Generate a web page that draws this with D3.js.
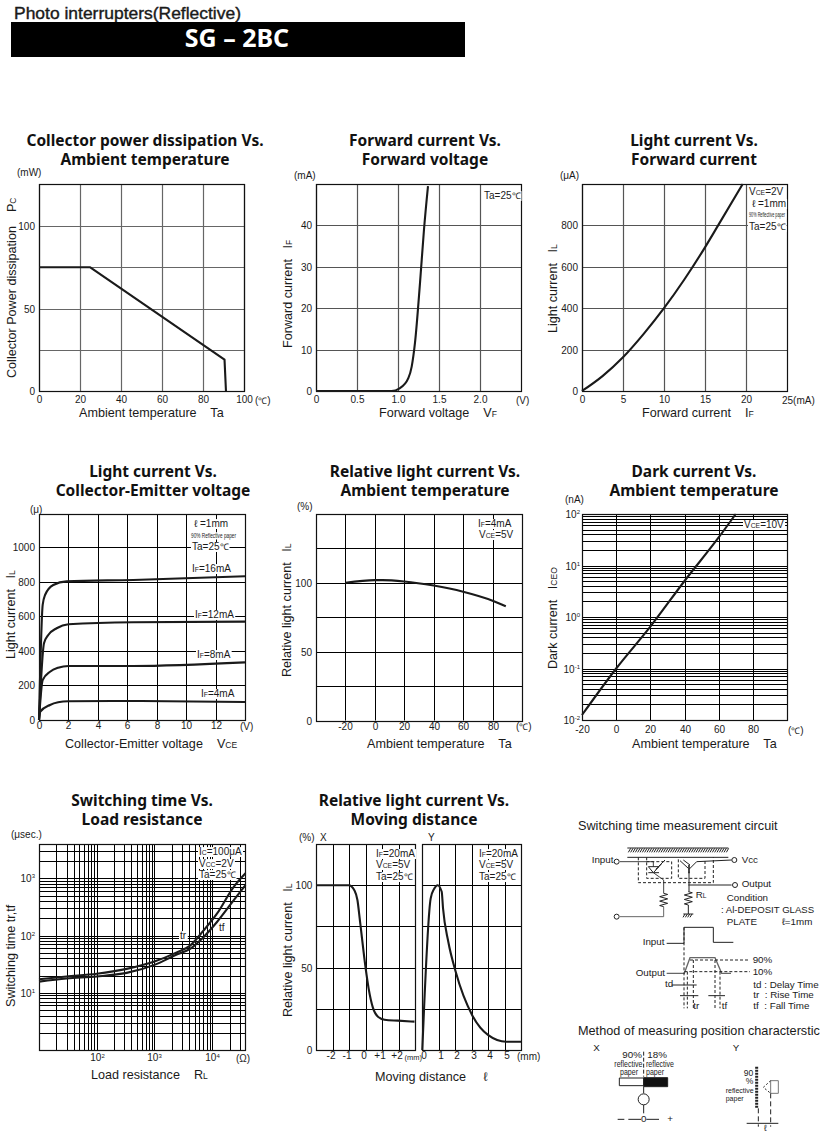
<!DOCTYPE html>
<html><head><meta charset="utf-8">
<script src="https://cdn.jsdelivr.net/npm/d3@7"></script>
<style>
html,body{margin:0;padding:0;background:#fff}
svg{display:block}
text{font-family:"Liberation Sans",Arial,sans-serif;fill:#1a1a1a;white-space:pre}
.ttl{font-family:"Noto Sans",sans-serif;font-weight:700;font-size:15.5px;text-anchor:middle;fill:#111}
.tick text{font-size:10px}
.axt{font-size:12.6px}
.note{font-size:10px}
.halo{stroke:#fff;stroke-width:4px;stroke-linejoin:round;fill:#fff}
.unit{font-size:10px}
.dg{font-size:9.8px}
</style></head><body><svg id="c" width="836" height="1134"></svg>
<script>
// ---------- data ----------
const powerTa=[0,25,90.5,91.2], powerPc=[75,75,19,0];
const vfVolt=[0,0.92,1.02,1.126,1.167,1.207,1.268,1.317,1.366], vfCurrent=[0,0,0.65,3.1,5.9,11.6,26,39,49.5];
const ilIf=[0,2.5,5,7.5,10,12.5,15,16.6,19.6], ilLight=[0,72,163,275,400,540,694,800,1000];
const vceV16=[0,0.25,0.41,0.97,1.88,6.4,14], ilIf16=[0,665,722,780,801,809,830];
const vceV12=[0,0.34,0.63,1.2,2,6.4,14], ilIf12=[0,443,491,530,553,565,568];
const vceV8=[0,0.25,0.75,1.3,2,6.4,14], ilIf8=[0,231,279,302,312,312,333];
const vceV4=[0,0.09,0.75,1.3,2,6.4,14], ilIf4=[0,48,87,102,108,110,104];
const relTa=[-20,0,5,20,40,60,80,89], relIl=[100,102,102,101,98,93.5,87,83];
const darkTa=[-20,0,20,40,60,70], darkNa=[0.0125,0.1,0.65,5,35,100];
const swR=[10,30,100,330,1000,2430,4140,7050,12000,23300,37700];
const swTr=[17.3,19.3,21.5,26.2,35.2,51,67,122,239,700,1230];
const swTf=[15.7,17.8,19.3,22.3,30.8,46.6,58.6,93.8,171,408,767];
const moveXd=[-3,-1.03,-0.67,-0.5,-0.34,0,0.18,0.44,0.75,1.15,1.96,2.97], moveXi=[100,100,96.7,91,77.9,49.6,37.4,25.7,20.2,18.4,17.8,17.2];
const moveYd=[0,0.51,0.73,0.93,1.18,1.26,1.58,2.03,3.04,4.01,5.1,6], moveYi=[0,92,98,100,96,86,65.7,47.5,21,9,5,5];
const zip=(a,b)=>a.map((v,i)=>[v,b[i]]);

const svg=d3.select("#c");
function rich(sel,str){
  d3.selectAll(sel.nodes()).each(function(){
    const t=d3.select(this);
    str.split(/(\{[^}]*\}|℃)/).filter(s=>s).forEach(p=>{
      if(p==="℃") t.append("tspan").attr("font-size","0.9em").text(p);
      else if(p[0]==="{") t.append("tspan").attr("font-size","0.68em").text(p.slice(1,-1));
      else t.append("tspan").text(p);
    });
  });
  return sel;
}
function txt(x,y,s,cls,opt={}){
  const t=svg.append("text").attr("x",x).attr("y",y).attr("class",cls||null);
  if(opt.size)t.style("font-size",opt.size+"px");
  if(opt.len)t.attr("textLength",opt.len).attr("lengthAdjust","spacingAndGlyphs");
  if(opt.anchor)t.attr("text-anchor",opt.anchor);
  if(opt.weight)t.style("font-weight",opt.weight);
  if(opt.fill)t.style("fill",opt.fill);
  if(opt.stroke)t.style("stroke",opt.stroke).style("stroke-width",opt.sw);
  return rich(t,s);
}
function panel(o){
  const xs=o.xlog?d3.scaleLog():d3.scaleLinear(), ys=o.ylog?d3.scaleLog():d3.scaleLinear();
  xs.domain(o.xd).range([o.l,o.r]); ys.domain(o.yd).range([o.b,o.t]);
  const xg=xs.copy().interpolate(d3.interpolateRound), yg=ys.copy().interpolate(d3.interpolateRound);
  const w=o.r-o.l,h=o.b-o.t, col=o.grid||"#000";
  const xt=o.xlog?xs.ticks().filter(v=>v>o.xd[0]&&v<o.xd[1]):o.xt;
  const yt=o.ylog?ys.ticks().filter(v=>v>=o.yd[0]&&v<=o.yd[1]):o.yt;
  const gx=svg.append("g").attr("transform",`translate(0,${o.b})`)
    .call(d3.axisBottom(xg).tickValues(xt).tickSize(-h).tickPadding(o.xp||5).tickFormat(v=>o.xf(v)));
  const gy=svg.append("g").attr("transform",`translate(${o.l},0)`)
    .call(d3.axisLeft(yg).tickValues(yt).tickSize(-w).tickPadding(o.yp||4).tickFormat(v=>o.yf?o.yf(v):""));
  [gx,gy].forEach(g=>{g.select(".domain").remove();g.attr("font-family",null).attr("font-size",null);
    g.selectAll("line").attr("stroke",col).attr("stroke-width",o.gw||1);});
  if(o.xdx)gx.selectAll("text").attr("dx",o.xdx);
  const powText=(g)=>g.selectAll("text").each(function(){
    const t=d3.select(this),s=t.text(); if(!s.startsWith("10^"))return;
    t.text("10");t.append("tspan").attr("font-size","0.6em").attr("dy","-0.6em").text(s.slice(3));
  });
  powText(gx);powText(gy);
  svg.append("rect").attr("x",Math.round(o.l)+.5).attr("y",Math.round(o.t)+.5).attr("width",Math.round(w)).attr("height",Math.round(h))
    .attr("fill","none").attr("stroke","#111").attr("stroke-width",1.2);
  const line=d3.line().x(d=>xs(d[0])).y(d=>ys(d[1])).curve(o.linear?d3.curveLinear:d3.curveMonotoneX);
  o.series.forEach(s=>svg.append("path").attr("d",line(s)).attr("fill","none").attr("stroke","#1a1a1a").attr("stroke-width",o.sw||2.1).attr("stroke-linejoin","round"));
}
const num=v=>String(v);

// ---------- header ----------
txt(14,19,"Photo interrupters(Reflective)",null,{size:17,len:227,stroke:"#1a1a1a",sw:.4});
svg.append("rect").attr("x",11).attr("y",22).attr("width",454).attr("height",35).attr("fill","#000");
txt(237,47,"SG – 2BC","",{size:25,weight:700,anchor:"middle",fill:"#fff"}).style("font-family",'"Noto Sans",sans-serif');

// ---------- titles ----------
[[145,146,"Collector power dissipation Vs."],[145,165,"Ambient temperature"],
 [425,146,"Forward current Vs."],[425,165,"Forward voltage"],
 [694,146,"Light current Vs."],[694,165,"Forward current"],
 [153,477,"Light current Vs."],[153,496,"Collector-Emitter voltage"],
 [425,477,"Relative light current Vs."],[425,496,"Ambient temperature"],
 [694,477,"Dark current Vs."],[694,496,"Ambient temperature"],
 [142,806,"Switching time Vs."],[142,825,"Load resistance"],
 [414,806,"Relative light current Vs."],[414,825,"Moving distance"]
].forEach(d=>txt(d[0],d[1],d[2],"ttl"));

// ---------- panels ----------
panel({l:39,r:244,t:184,b:391,xd:[0,100],yd:[0,125.5],xt:[0,20,40,60,80,100],yt:[0,25,50,75,100],xf:num,yf:v=>v%50===0?v:"",grid:"#666",gw:1.2,series:[zip(powerTa,powerPc)],linear:true});
panel({l:316,r:521,t:184,b:391,xd:[0,2.5],yd:[0,50],xt:[0,.5,1,1.5,2],yt:[0,10,20,30,40],xf:v=>v===0?"0":v.toFixed(1),yf:num,grid:"#555",gw:1.2,series:[zip(vfVolt,vfCurrent)]});
panel({l:582,r:787,t:184,b:391,xd:[0,25],yd:[0,1000],xt:[0,5,10,15,20],yt:[0,200,400,600,800],xf:num,yf:num,grid:"#555",gw:1.2,series:[zip(ilIf,ilLight)]});
panel({l:39,r:245,t:514,b:720,xd:[0,14],yd:[0,1190],xt:[0,2,4,6,8,10,12],yt:[0,200,400,600,800,1000],xf:num,yf:num,xp:2,series:[zip(vceV16,ilIf16),zip(vceV12,ilIf12),zip(vceV8,ilIf8),zip(vceV4,ilIf4)]});
panel({l:316,r:522,t:514,b:720.5,xd:[-40,100],yd:[0,150],xt:[-20,0,20,40,60,80],yt:[0,25,50,75,100,125],xf:num,yf:v=>v%50===0?v:"",xp:2,series:[zip(relTa,relIl)]});
panel({l:582,r:787,t:514,b:720,xd:[-20,100],yd:[0.01,100],ylog:true,xt:[-20,0,20,40,60,80],xf:num,yf:v=>{const e=Math.log10(v);return Math.abs(e-Math.round(e))<1e-6?"10^"+Math.round(e):"";},xp:6,yp:2,series:[zip(darkTa,darkNa)]});
panel({l:39,r:245,t:844,b:1050,xlog:true,ylog:true,xd:[10,37000],yd:[1,4000],
  xf:v=>[100,1000,10000].includes(v)?"10^"+Math.round(Math.log10(v)):"",
  yf:v=>[10,100,1000].includes(v)?"10^"+Math.round(Math.log10(v)):"",xp:4,series:[zip(swR,swTr),zip(swR,swTf)]});
panel({l:316.3,r:415,t:844,b:1050,xd:[-3,3],yd:[0,125],xt:[-2,-1,0,1,2],yt:[0,25,50,75,100],xf:v=>v>0?"+"+v:v,yf:v=>v%50===0?v:"",xp:2,xdx:-2.5,series:[zip(moveXd,moveXi)]});
panel({l:422.3,r:521,t:844,b:1050,xd:[0,6],yd:[0,125],xt:[0,1,2,3,4,5],yt:[25,50,75,100],xf:num,xp:2,xdx:1.5,series:[zip(moveYd,moveYi)]});

// ---------- axis titles ----------
[[79,417,"Ambient temperature    Ta"],[379,417,"Forward voltage    V{F}"],[642,417,"Forward current    I{F}"],
 [65,748,"Collector-Emitter voltage    V{CE}"],[367,748,"Ambient temperature    Ta"],[632,748,"Ambient temperature    Ta"],
 [91,1079,"Load resistance    R{L}"],[375,1081,"Moving distance     ℓ"]
].forEach(d=>txt(d[0],d[1],d[2],"axt"));
[[16,378,"Collector Power dissipation    P{C}"],[292,348,"Forward current   I{F}"],[557,333,"Light current   I{L}"],
 [15,659,"Light current   I{L}"],[291,677,"Relative light current   I{L}"],[557,669,"Dark current   I{CEO}"],
 [15,1007,"Switching time tr,tf"],[292,1017,"Relative light current   I{L}"]
].forEach(d=>{const t=txt(0,0,d[2],"axt");t.attr("x",null).attr("y",null).attr("transform",`translate(${d[0]},${d[1]}) rotate(-90)`);});

// ---------- units ----------
[[17,176,"(mW)"],[294,179,"(mA)"],[560,179,"(μA)"],[30,513,"(μ)"],[297,510,"(%)"],[565,503,"(nA)"],[11,838,"(μsec.)"],[299,841,"(%)"],[320,841,"X"],[428,841,"Y"],
 [255,404,"(℃)"],[516,404,"(V)"],[782,404,"25(mA)"],[240,730,"(V)"],[516,730,"(℃)"],[788,734,"(℃)"],[236,1062,"(Ω)"],[517,1060,"(mm)"]
].forEach(d=>txt(d[0],d[1],d[2],"unit"));
txt(404.5,1060,"(mm)","unit",{size:7.5});

// ---------- notes in the plots: a white backing rectangle from the text's box, then the text ----------
function note(x,y,s,opt={}){
  const t=txt(x,y,s,"note",opt), b=t.node().getBBox();
  svg.insert("rect",()=>t.node()).attr("x",b.x-1).attr("y",y-b.height*0.72).attr("width",b.width+2).attr("height",b.height*0.9).attr("fill","#fff");
}
[[484,199,"Ta=25℃"],[749,195,"V{CE}=2V"],[752,207,"ℓ =1mm"],[749,230,"Ta=25℃"],
 [194,527,"ℓ =1mm"],[192,550,"Ta=25℃"],[192,572,"I{F}=16mA"],[195,618,"I{F}=12mA"],[197,658,"I{F}=8mA"],[201,697,"I{F}=4mA"],
 [478,527,"I{F}=4mA"],[479,538,"V{CE}=5V"],[744,528,"V{CE}=10V"],
 [199,855,"I{C}=100μA"],[199,867,"V{CC}=2V"],[199,878,"Ta=25℃"],[180,939,"tr"],[219,931,"tf"],
 [376,857,"I{F}=20mA"],[376,868,"V{CE}=5V"],[376,880,"Ta=25℃"],[479,857,"I{F}=20mA"],[479,868,"V{CE}=5V"],[479,880,"Ta=25℃"]
].forEach(d=>note(d[0],d[1],d[2]));
[[749,217,36],[191,538,45]].forEach(d=>note(d[0],d[1],"90% Reflective paper",{size:7,len:d[2]}));

// ---------- schematic drawings (zoom-space coordinates mapped to the page) ----------
const mapA=p=>[565+p[0]/3,810+p[1]/3], mapB=p=>[565+p[0]/3,1010+p[1]/3];
function seg(map,pts,o={}){
  svg.append("path").attr("d",d3.line()(pts.map(map))).attr("fill",o.fill||"none")
    .attr("stroke",o.c||"#222").attr("stroke-width",o.w||1).attr("stroke-dasharray",o.dash||null);
}
function ring(map,c,r,o={}){const p=map(c);svg.append("circle").attr("cx",p[0]).attr("cy",p[1]).attr("r",r)
   .attr("fill","#fff").attr("stroke",o.c||"#222").attr("stroke-width",1);}
const dg=(map,px,py,s,o={})=>{const p=map([px,py]);return txt(p[0],p[1],s,"dg",o);};
const ziz=(x,y0,y1)=>{const a=[[x,y0]];const n=6,st=(y1-y0)/n;for(let i=0;i<n;i++)a.push([x+(i%2?-12:12),y0+st*(i+.5)]);a.push([x,y1]);return a;};

txt(578,830,"Switching time measurement circuit",null,{size:12.7});
seg(mapA,[[187,114],[490,114]],{w:1});
d3.range(190,490,7).forEach(x=>seg(mapA,[[x,127],[x+7,115]],{w:1}));
seg(mapA,[[187,142],[490,142]]);
seg(mapA,[[165,155],[265,155],[265,170]],{c:"#444"});
seg(mapA,[[250,170],[282,170],[265,188],[250,170]]);
seg(mapA,[[250,188],[282,188]]);
seg(mapA,[[265,188],[296,210],[296,250]],{c:"#444"});
seg(mapA,ziz(296,250,290));
seg(mapA,[[296,290],[296,320],[165,320]],{c:"#666"});
ring(mapA,[155,155],2.5);ring(mapA,[155,320],2.5);
seg(mapA,[[290,162],[272,178]]);seg(mapA,[[300,150],[280,170]]);
seg(mapA,[[345,152],[370,175]]);seg(mapA,[[355,150],[375,165]]);
seg(mapA,[[372,165],[372,190]],{w:1.6});
seg(mapA,[[372,178],[395,155],[500,150]]);
seg(mapA,[[372,185],[372,245]]);
seg(mapA,ziz(370,245,285));
seg(mapA,[[370,285],[370,312]]);seg(mapA,[[355,312],[385,312]]);
d3.range(360,385,7).forEach(x=>seg(mapA,[[x,312],[x-6,322]]));
seg(mapA,[[370,225],[500,225]]);
ring(mapA,[508,150],2.5);ring(mapA,[510,225],2.5);
seg(mapA,[[220,142],[220,218],[445,218],[445,142]],{dash:"3,2"});
seg(mapA,[[245,142],[245,205],[320,205],[320,155],[245,155]],{dash:"3,2"});
seg(mapA,[[340,148],[340,205],[420,205],[420,148]],{dash:"3,2"});
dg(mapA,80,160,"Input");dg(mapA,530,160,"Vcc");dg(mapA,530,232,"Output");dg(mapA,392,263,"R{L}");
dg(mapA,485,272,"Condition");dg(mapA,468,310,": Al-DEPOSIT GLASS",{size:9.6});dg(mapA,485,345,"PLATE");dg(mapA,650,345,"ℓ=1mm");
seg(mapA,[[305,400],[357,400],[357,352],[445,352],[445,397],[505,397]]);
dg(mapA,233,405,"Input");
seg(mapA,[[305,490],[358,490],[375,443],[450,443],[470,490],[498,490]],{c:"#666",w:1.3});
dg(mapA,212,498,"Output");
seg(mapA,[[375,450],[555,450]],{dash:"3,2"});seg(mapA,[[358,485],[555,485]],{dash:"3,2"});
[357,367,385,450,465].forEach((x,i)=>seg(mapA,[[x,i===0?352:(i===1||i===4?485:450)],[x,595]],{dash:"3,2"}));
dg(mapA,563,458,"90%");dg(mapA,563,495,"10%");
seg(mapA,[[320,525],[395,525]]);seg(mapA,[[345,557],[400,557]]);seg(mapA,[[430,557],[480,557]]);
dg(mapA,300,532,"td");dg(mapA,385,596,"tr");dg(mapA,470,596,"tf");
dg(mapA,565,533,"td : Delay Time");dg(mapA,565,565,"tr  : Rise Time");dg(mapA,565,596,"tf  : Fall Time");

txt(578,1035,"Method of measuring position characterstic",null,{size:12.7});
dg(mapB,85,123,"X");dg(mapB,503,123,"Y");
dg(mapB,172,145,"90%");dg(mapB,247,145,"18%");
dg(mapB,148,170,"reflective",{size:8.5,len:28});dg(mapB,243,170,"reflective",{size:8.5,len:28});
dg(mapB,165,195,"paper",{size:8.5,len:18});dg(mapB,243,195,"paper",{size:8.5,len:18});
seg(mapB,[[236,125],[236,200]],{dash:"4,2"});
seg(mapB,[[163,204],[236,204],[236,227],[163,227],[163,204]]);
seg(mapB,[[236,203],[308,203],[308,230],[236,230],[236,203]],{fill:"#111"});
seg(mapB,[[236,230],[236,250]]);ring(mapB,[236,268],5.5);seg(mapB,[[236,285],[236,310]]);
seg(mapB,[[158,328],[178,328]]);seg(mapB,[[190,328],[228,328]]);seg(mapB,[[244,328],[282,328]]);
dg(mapB,236,336,"0",{anchor:"middle"});dg(mapB,315,336,"+",{anchor:"middle"});
seg(mapB,[[575,170],[575,295]],{w:3,dash:"2,1"});
dg(mapB,565,197,"90",{anchor:"end",size:8.5});dg(mapB,565,222,"%",{anchor:"end",size:8.5});
dg(mapB,482,248,"reflective",{size:8,len:28});dg(mapB,482,272,"paper",{size:8,len:18});
seg(mapB,[[617,212],[640,212],[640,250],[617,250],[617,212]],{c:"#777"});
seg(mapB,[[617,212],[595,232],[617,250]],{dash:"2,2"});
seg(mapB,[[580,295],[580,350]],{dash:"5,3"});seg(mapB,[[617,250],[617,350]],{dash:"5,3"});
seg(mapB,[[545,340],[640,340]]);
dg(mapB,596,362,"ℓ",{size:9});
</script></body></html>
